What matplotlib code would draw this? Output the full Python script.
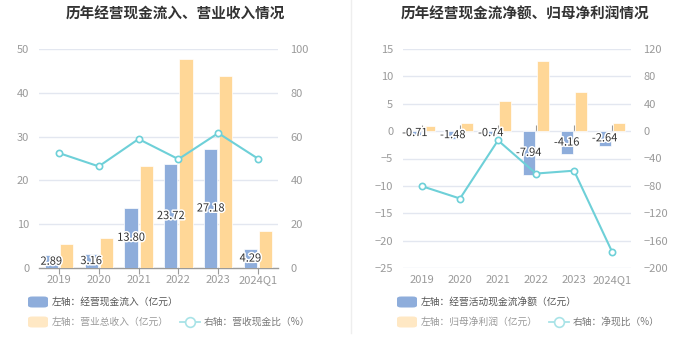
import matplotlib
matplotlib.use("Agg")
import matplotlib.pyplot as plt
import matplotlib.patheffects as pe
from matplotlib.patches import FancyBboxPatch
from matplotlib.lines import Line2D
import numpy as np

plt.rcParams['font.family'] = ['Noto Sans CJK SC', 'DejaVu Sans']

# data
years = ["2019", "2020", "2021", "2022", "2023", "2024Q1"]
cash_inflow = [2.89, 3.16, 13.80, 23.72, 27.18, 4.29]
revenue = [5.5, 6.85, 23.3, 47.7, 43.8, 8.5]
inflow_ratio = [52.5, 46.4, 58.9, 49.7, 61.6, 49.9]

net_cash = [-0.71, -1.48, -0.74, -7.94, -4.16, -2.64]
net_profit = [0.88, 1.5, 5.5, 12.8, 7.2, 1.5]
net_ratio = [-80.5, -98.5, -13.5, -62.0, -57.8, -176.0]

BLUE = "#8EADDB"
ORANGE = "#FFD797"
LINE = "#6ED0D8"
TICK = "#9A9A9A"
GRID = "#E3E7F0"
W, H = 699, 359

fig = plt.figure(figsize=(W / 100, H / 100), dpi=100)


def fx(px):
    return px / W


def fy(py):
    return 1 - py / H


def panel(left, right, title, tx, bars_l, bars_o, ratio, ylim, yticks, ylim2, yticks2):
    ax = fig.add_axes([fx(left), fy(268), fx(right - left), fy(49) - fy(268)])
    x = np.arange(len(years))
    off, bw = 0.19, 0.33
    ax.bar(x - off, bars_l, bw, color=BLUE, edgecolor="white", linewidth=0.5, zorder=2)
    ax.bar(x + off, bars_o, bw, color=ORANGE, edgecolor="white", linewidth=0.5, zorder=2)
    ax.set_xlim(-0.5, len(years) - 0.5)
    ax.set_ylim(*ylim)
    ax.set_yticks(yticks)
    ax.grid(axis="y", color=GRID, lw=1, zorder=0)
    ax.set_axisbelow(True)
    for s in ax.spines.values():
        s.set_visible(False)
    ax.tick_params(axis="y", length=0, pad=7, labelsize=8, labelcolor=TICK)
    ax.set_xticks(x)
    ax.set_xticklabels(years)
    ax.tick_params(axis="x", length=0, pad=5, labelsize=8, labelcolor=TICK)

    # zero line with ticks
    zpos = (0 - ylim[0]) / (ylim[1] - ylim[0])
    sec = ax.secondary_xaxis(zpos)
    sec.set_xticks(x)
    sec.set_xticklabels([])
    sec.tick_params(length=4, color=TICK, width=0.8)
    sec.spines["bottom"].set_color(TICK)
    sec.spines["bottom"].set_linewidth(1)
    for s in ("top", "left", "right"):
        sec.spines[s].set_visible(False)

    for xi, v in zip(x, bars_l):
        ax.text(xi - off, v / 2, f"{v:.2f}", ha="center", va="center", fontsize=8,
                color="#333333", zorder=5,
                path_effects=[pe.withStroke(linewidth=2.2, foreground="white")])

    ax2 = ax.twinx()
    ax2.plot(x, ratio, color=LINE, lw=1.5, marker="o", ms=4.5, mfc="white",
             mec=LINE, mew=1.2, zorder=4)
    ax2.set_ylim(*ylim2)
    ax2.set_yticks(yticks2)
    for s in ax2.spines.values():
        s.set_visible(False)
    ax2.tick_params(axis="y", length=0, pad=9, labelsize=8, labelcolor=TICK)
    ax2.set_zorder(ax.get_zorder() + 1)
    ax2.patch.set_visible(False)

    fig.text(fx(tx), fy(14), title, ha="center", va="center",
             fontsize=10.5, fontweight="bold", color="#333333")
    return ax


panel(39, 278, "历年经营现金流入、营业收入情况", 175, cash_inflow, revenue, inflow_ratio,
      (0, 50), range(0, 51, 10), (0, 100), range(0, 101, 20))
panel(403, 631, "历年经营现金流净额、归母净利润情况", 525, net_cash, net_profit, net_ratio,
      (-25, 15), range(-25, 16, 5), (-200, 120), range(-200, 121, 40))


def legend_patch(px, py, color):
    fig.patches.append(FancyBboxPatch((fx(px), fy(py + 5.5)), fx(20), fy(0) - fy(11),
                                      boxstyle="round,pad=0,rounding_size=0.006",
                                      transform=fig.transFigure, color=color,
                                      figure=fig, ec="none"))


def legend_line(px, py):
    fig.lines.append(Line2D([fx(px), fx(px + 20)], [fy(py), fy(py)], color="#A8E3E7",
                            lw=1.3, transform=fig.transFigure, figure=fig))
    fig.lines.append(Line2D([fx(px + 10)], [fy(py)], color="#A8E3E7", marker="o", ms=7,
                            mfc="white", mew=1.2, transform=fig.transFigure, figure=fig))


def legend_text(px, py, s, color):
    fig.text(fx(px), fy(py), s, ha="left", va="center", fontsize=7, color=color)


# left legend
legend_patch(28, 302, BLUE)
legend_text(52, 302, "左轴：经营现金流入（亿元）", "#555555")
legend_patch(28, 322, "#FFE8C4")
legend_text(52, 322, "左轴：营业总收入（亿元）", "#999999")
legend_line(180, 322)
legend_text(204, 322, "右轴：营收现金比（%）", "#777777")

# right legend
legend_patch(397, 302, BLUE)
legend_text(421, 302, "左轴：经营活动现金流净额（亿元）", "#555555")
legend_patch(397, 322, "#FFE8C4")
legend_text(421, 322, "左轴：归母净利润（亿元）", "#999999")
legend_line(549, 322)
legend_text(573, 322, "右轴：净现比（%）", "#777777")

# divider
fig.lines.append(Line2D([fx(351), fx(351)], [fy(0), fy(333)], color="#EEEEEE", lw=1,
                        transform=fig.transFigure, figure=fig))

fig.savefig("out.png", dpi=100)
